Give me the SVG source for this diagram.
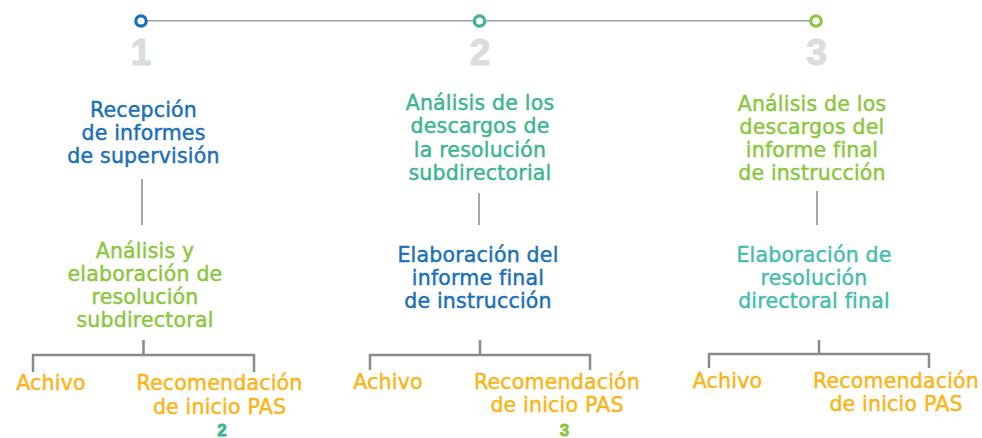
<svg xmlns="http://www.w3.org/2000/svg" width="982" height="438" viewBox="0 0 982 438">
<style>
text{font-family:"DejaVu Sans","Liberation Sans",sans-serif;font-size:20.5px;letter-spacing:0.2px;text-anchor:middle;stroke-width:0.45px}
.blue{fill:#1a70b8;stroke:#1a70b8}.teal{fill:#3db491;stroke:#3db491}.cyan{fill:#47bcae;stroke:#47bcae}.green{fill:#8cc63e;stroke:#8cc63e}.yel{fill:#fbb415;stroke:#fbb415}
.num{font-family:"Liberation Sans",sans-serif;font-weight:bold;font-size:37px;fill:#dcdcdc;stroke:#dcdcdc;stroke-width:1.2px;letter-spacing:0}
.small{font-family:"Liberation Sans",sans-serif;font-weight:bold;font-size:17px;letter-spacing:0;stroke-width:0.8px}
.ln{stroke:#8a8a8a;stroke-width:2.5;fill:none}
.vl{stroke:#8a8a8a;stroke-width:1.5;fill:none}
</style>
<rect width="982" height="438" fill="#ffffff"/>
<g id="connectors">
<line x1="141" y1="20.7" x2="816" y2="20.7" stroke="#a0a0a0" stroke-width="1.5"/>
<line class="vl" x1="142" y1="179" x2="142" y2="225"/>
<line class="vl" x1="479" y1="193" x2="479" y2="225"/>
<line class="vl" x1="817" y1="191" x2="817" y2="225"/>
<path class="ln" d="M143.5 340V355M33 372V355H254V372"/>
<path class="ln" d="M480 340V355M370 370V355H590V370"/>
<path class="ln" d="M819 340V354M709 368V354H929V368"/>
</g>
<g id="timeline">
<circle cx="141" cy="21" r="5.2" fill="#fff" stroke="#1a70b8" stroke-width="3.2"/>
<circle cx="479.5" cy="21" r="5.2" fill="#fff" stroke="#3db491" stroke-width="3.2"/>
<circle cx="816" cy="21" r="5.2" fill="#fff" stroke="#8cc63e" stroke-width="3.2"/>
<text class="num" x="141" y="65">1</text>
<text class="num" x="480" y="65">2</text>
<text class="num" x="816.5" y="65">3</text>
</g>
<g id="n1a"><text class="blue"><tspan x="143.5" y="117">Recepción</tspan><tspan x="143.5" y="140">de informes</tspan><tspan x="143.5" y="163">de supervisión</tspan></text></g>
<g id="n1b"><text class="green"><tspan x="145" y="258">Análisis y</tspan><tspan x="145" y="281">elaboración de</tspan><tspan x="145" y="304">resolución</tspan><tspan x="145" y="327">subdirectoral</tspan></text></g>
<g id="n1c"><text class="yel" x="51" y="390">Achivo</text></g>
<g id="n1d"><text class="yel"><tspan x="219.5" y="390">Recomendación</tspan><tspan x="219.5" y="414">de inicio PAS</tspan></text><text class="small teal" x="222" y="435.5">2</text></g>
<g id="n2a"><text class="teal"><tspan x="480" y="110">Análisis de los</tspan><tspan x="480" y="133">descargos de</tspan><tspan x="480" y="156.5">la resolución</tspan><tspan x="480" y="179.5">subdirectorial</tspan></text></g>
<g id="n2b"><text class="blue"><tspan x="478" y="262">Elaboración del</tspan><tspan x="478" y="285">informe final</tspan><tspan x="478" y="307.5">de instrucción</tspan></text></g>
<g id="n2c"><text class="yel" x="388" y="389">Achivo</text></g>
<g id="n2d"><text class="yel"><tspan x="557" y="389">Recomendación</tspan><tspan x="557" y="411.5">de inicio PAS</tspan></text><text class="small green" x="564.5" y="435.5">3</text></g>
<g id="n3a"><text class="green"><tspan x="812" y="110.5">Análisis de los</tspan><tspan x="812" y="133.5">descargos del</tspan><tspan x="812" y="157">informe final</tspan><tspan x="812" y="180">de instrucción</tspan></text></g>
<g id="n3b"><text class="cyan"><tspan x="814" y="262">Elaboración de</tspan><tspan x="814" y="285">resolución</tspan><tspan x="814" y="308">directoral final</tspan></text></g>
<g id="n3c"><text class="yel" x="727.5" y="388">Achivo</text></g>
<g id="n3d"><text class="yel"><tspan x="896" y="388">Recomendación</tspan><tspan x="896" y="410.5">de inicio PAS</tspan></text></g>
</svg>
